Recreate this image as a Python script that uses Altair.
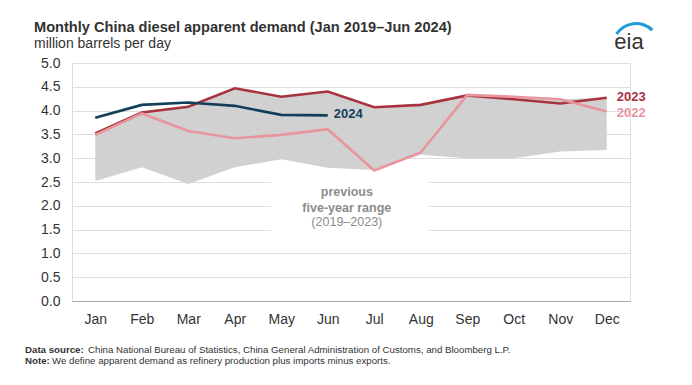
import altair as alt
import pandas as pd

months = ["Jan", "Feb", "Mar", "Apr", "May", "Jun", "Jul", "Aug", "Sep", "Oct", "Nov", "Dec"]
range_low = [2.52, 2.81, 2.46, 2.81, 2.98, 2.80, 2.75, 3.07, 3.00, 3.00, 3.14, 3.17]
range_high = [3.52, 3.96, 4.08, 4.47, 4.29, 4.40, 4.07, 4.12, 4.33, 4.29, 4.24, 4.27]
demand_2022 = [3.49, 3.94, 3.57, 3.42, 3.49, 3.61, 2.74, 3.12, 4.33, 4.29, 4.24, 3.98]
demand_2023 = [3.52, 3.96, 4.08, 4.47, 4.29, 4.40, 4.07, 4.12, 4.32, 4.24, 4.15, 4.27]
demand_2024 = [3.85, 4.12, 4.17, 4.10, 3.91, 3.90]

y_ticks = [0.0, 0.5, 1.0, 1.5, 2.0, 2.5, 3.0, 3.5, 4.0, 4.5, 5.0]

ann_lines = ["previous", "five-year range", "(2019\u20132023)"]
ann_weights = ["bold", "bold", "normal"]
ann_y = [2.29, 1.96, 1.65]
ann_x = 6.41

FONT = "Liberation Sans"
C2022 = "#e8959d"
C2023 = "#a8323f"
C2024 = "#123f5a"
BAND = "#d1d1d1"

idx = list(range(1, 13))
band_df = pd.DataFrame({"m": idx, "low": range_low, "high": range_high})
df22 = pd.DataFrame({"m": idx, "v": demand_2022})
df23 = pd.DataFrame({"m": idx, "v": demand_2023})
df24 = pd.DataFrame({"m": idx[:len(demand_2024)], "v": demand_2024})

label_expr = "[" + ",".join("'%s'" % m for m in months) + "][datum.value - 1]"

xscale = alt.Scale(domain=[0.5, 12.5], nice=False, zero=False)
yscale = alt.Scale(domain=[0, 5], nice=False)

x_axis = alt.Axis(values=idx, labelExpr=label_expr, tickSize=0, grid=False,
                  domainColor="#a8a8a8", labelPadding=11, labelFontSize=14,
                  labelColor="#333333", title=None, labelFont=FONT)
y_axis = alt.Axis(values=y_ticks, format=".1f", tickSize=0, domain=False,
                  labelPadding=12, labelFontSize=14, labelColor="#333333",
                  gridColor="#dedede", title=None, labelFont=FONT)

X = alt.X("m:Q", scale=xscale, axis=x_axis)
Y = alt.Y("v:Q", scale=yscale, axis=y_axis)

# white box behind the annotation (hides gridlines)
box = alt.Chart(pd.DataFrame({"x1": [4.78], "x2": [8.18], "y1": [1.25], "y2": [2.62]})).mark_rect(
    color="white").encode(
    x=alt.X("x1:Q", scale=xscale, axis=x_axis), x2="x2:Q",
    y=alt.Y("y1:Q", scale=yscale, axis=y_axis), y2="y2:Q")

band = alt.Chart(band_df).mark_area(color=BAND, opacity=1).encode(
    x=alt.X("m:Q", scale=xscale, axis=x_axis),
    y=alt.Y("low:Q", scale=yscale, axis=y_axis), y2="high:Q")

line23 = alt.Chart(df23).mark_line(color=C2023, strokeWidth=2.6).encode(x=X, y=Y)
line22 = alt.Chart(df22).mark_line(color=C2022, strokeWidth=2.6).encode(x=X, y=Y)
line24 = alt.Chart(df24).mark_line(color=C2024, strokeWidth=2.6).encode(x=X, y=Y)

lab23 = alt.Chart(df23.tail(1).assign(t="2023")).mark_text(
    align="left", baseline="middle", dx=10, dy=-1, fontSize=13, fontWeight="bold",
    color=C2023, font=FONT).encode(x=X, y=Y, text="t:N")
lab22 = alt.Chart(df22.tail(1).assign(t="2022")).mark_text(
    align="left", baseline="middle", dx=10, dy=1, fontSize=13, fontWeight="bold",
    color=C2022, font=FONT).encode(x=X, y=Y, text="t:N")
lab24 = alt.Chart(df24.tail(1).assign(t="2024")).mark_text(
    align="left", baseline="middle", dx=6, dy=-1, fontSize=13, fontWeight="bold",
    color=C2024, font=FONT).encode(x=X, y=Y, text="t:N")

ann_df = pd.DataFrame({"x": [ann_x] * 3, "y": ann_y, "t": ann_lines, "w": ann_weights})
ann_bold = alt.Chart(ann_df[ann_df.w == "bold"]).mark_text(
    align="center", baseline="middle", fontSize=12.5, fontWeight="bold",
    color="#8c8c8c", font=FONT).encode(
    x=alt.X("x:Q", scale=xscale, axis=x_axis), y=alt.Y("y:Q", scale=yscale, axis=y_axis), text="t:N")
ann_norm = alt.Chart(ann_df[ann_df.w == "normal"]).mark_text(
    align="center", baseline="middle", fontSize=12.5, fontWeight="normal",
    color="#8c8c8c", font=FONT).encode(
    x=alt.X("x:Q", scale=xscale, axis=x_axis), y=alt.Y("y:Q", scale=yscale, axis=y_axis), text="t:N")

one = alt.Data(values=[{"a": 1}])


def txt(s, x, y, size, weight="normal", color="#333333", align="left", baseline="middle"):
    return alt.Chart(one).mark_text(
        align=align, baseline=baseline, fontSize=size, fontWeight=weight, color=color, font=FONT
    ).encode(x=alt.value(x), y=alt.value(y), text=alt.value(s))


title = txt("Monthly China diesel apparent demand (Jan 2019\u2013Jun 2024)", -38, -35, 14.6, "bold")
subtitle = txt("million barrels per day", -38, -19, 14)
src_b = txt("Data source:", -47, 287, 9.7, "bold")
src = txt("China National Bureau of Statistics, China General Administration of Customs, and Bloomberg L.P.", 16, 287, 9.7)
note_b = txt("Note:", -47, 298, 9.7, "bold")
note = txt("We define apparent demand as refinery production plus imports minus exports.", -20, 298, 9.7)
logo_txt = txt("eia", 557, -14, 22, "normal", "#333333", "center", "alphabetic")
logo_arc = alt.Chart(one).mark_arc(
    innerRadius=22, outerRadius=25, theta=5.3, theta2=7.05, color="#1f9bd7"
).encode(x=alt.value(564), y=alt.value(-16))

chart = alt.layer(
    box, band, line23, line22, line24, lab23, lab22, lab24, ann_bold, ann_norm,
    title, subtitle, src_b, src, note_b, note, logo_txt, logo_arc
).properties(
    width=558, height=238,
    autosize=alt.AutoSizeParams(type="none"),
    padding={"left": 64, "top": 55, "right": 54, "bottom": 76},
).configure_view(stroke=None).configure(font=FONT)

chart.save("out.html", embed_options={"renderer": "svg", "actions": False})
